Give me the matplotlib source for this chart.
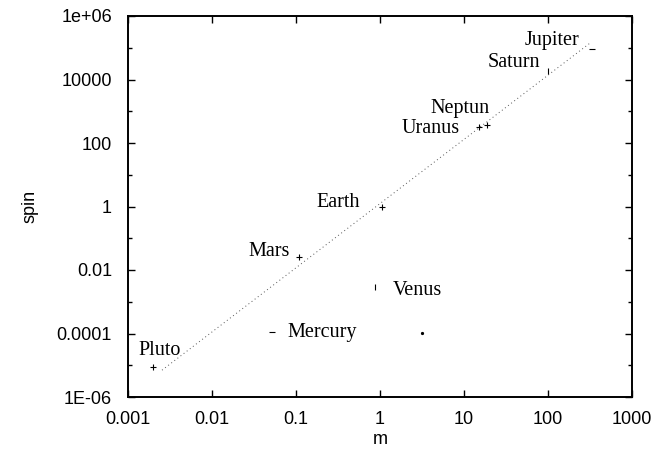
import numpy as np
import matplotlib
matplotlib.use("Agg")
import matplotlib.pyplot as plt
from matplotlib.ticker import FixedLocator, NullFormatter

# ─── Data ─────────────────────────────────────────────────────────────────────
planets = ["Jupiter", "Saturn", "Neptun", "Uranus", "Earth", "Mars",
           "Venus", "Mercury", "Pluto", ""]
mass = [330, 100, 18.6, 15, 1.06, 0.11, 0.87, 0.052, 0.002, 3.16]
spin = [9.1e4, 1.9e4, 370, 316, 1.0, 0.026, 0.0029, 1.1e-4, 8.7e-6, 1.05e-4]
markers = ["_", "|", "+", "+", "+", "+", "|", "_", "+", "."]

# label offsets (points) and alignment
offsets = [(-8.6, 6.5), (-5.8, 5.8), (2, 12), (-13.7, -0.7), (-15.8, 2.9),
           (-7.2, 3.6), (13, -2.2), (10.8, 0), (-10.8, 12.2), (0, 0)]
align = ["right", "right", "right", "right", "right", "right",
         "left", "left", "left", "left"]

# fitted power-law line end points
fit_m = [0.00254, 316]
fit_s = [7e-6, 1.4e5]

xticks = [1e-3, 1e-2, 1e-1, 1, 10, 100, 1000]
xlabels = ["0.001", "0.01", "0.1", "1", "10", "100", "1000"]
yticks = [1e6, 1e4, 1e2, 1, 1e-2, 1e-4, 1e-6]
ylabels = ["1e+06", "10000", "100", "1", "0.01", "0.0001", "1E-06"]
yminor = [1e5, 1e3, 1e1, 1e-1, 1e-3, 1e-5]

# ─── Plot ─────────────────────────────────────────────────────────────────────
fig = plt.figure(figsize=(6.58, 4.62), dpi=100)
ax = fig.add_axes([128 / 658, 1 - 397 / 462, 504 / 658, 381 / 462])

ax.plot(fit_m, fit_s, linestyle=(0, (1, 3)), color="#555555", lw=0.7)

for p, m, s, mk, off, ha in zip(planets, mass, spin, markers, offsets, align):
    ms = 3 if mk == "." else 5
    ax.plot(m, s, marker=mk, color="black", ms=ms, mew=0.8, linestyle="none")
    if p:
        ax.annotate(p, (m, s), xytext=off, textcoords="offset points",
                    ha=ha, va="center", fontsize=14.5,
                    family="Liberation Serif")

ax.set_xscale("log")
ax.set_yscale("log")
ax.set_xlim(1e-3, 1e3)
ax.set_ylim(1e-6, 1e6)

ax.xaxis.set_major_locator(FixedLocator(xticks))
ax.set_xticklabels(xlabels)
ax.xaxis.set_minor_locator(FixedLocator([]))
ax.yaxis.set_major_locator(FixedLocator(yticks))
ax.set_yticklabels(ylabels)
ax.yaxis.set_minor_locator(FixedLocator(yminor))
ax.yaxis.set_minor_formatter(NullFormatter())

ax.tick_params(which="both", direction="in", top=True, right=True,
               labelsize=13, width=1.0)
ax.tick_params(axis="y", pad=11.5)
ax.tick_params(axis="x", pad=10)
ax.tick_params(which="major", length=5)
ax.tick_params(which="minor", length=3)
for lab in ax.get_xticklabels() + ax.get_yticklabels():
    lab.set_family("Liberation Sans")

for sp in ax.spines.values():
    sp.set_linewidth(1.4)

ax.set_xlabel("m", fontsize=13, family="Liberation Sans")
ax.set_ylabel("spin", fontsize=13, family="Liberation Sans")
ax.xaxis.set_label_coords(0.5, -43 / 381, transform=ax.transAxes)
ax.yaxis.set_label_coords(-98 / 504, 0.5, transform=ax.transAxes)
ax.xaxis.label.set_va("center")
ax.yaxis.label.set_va("center")

fig.savefig("out.png", dpi=100)
